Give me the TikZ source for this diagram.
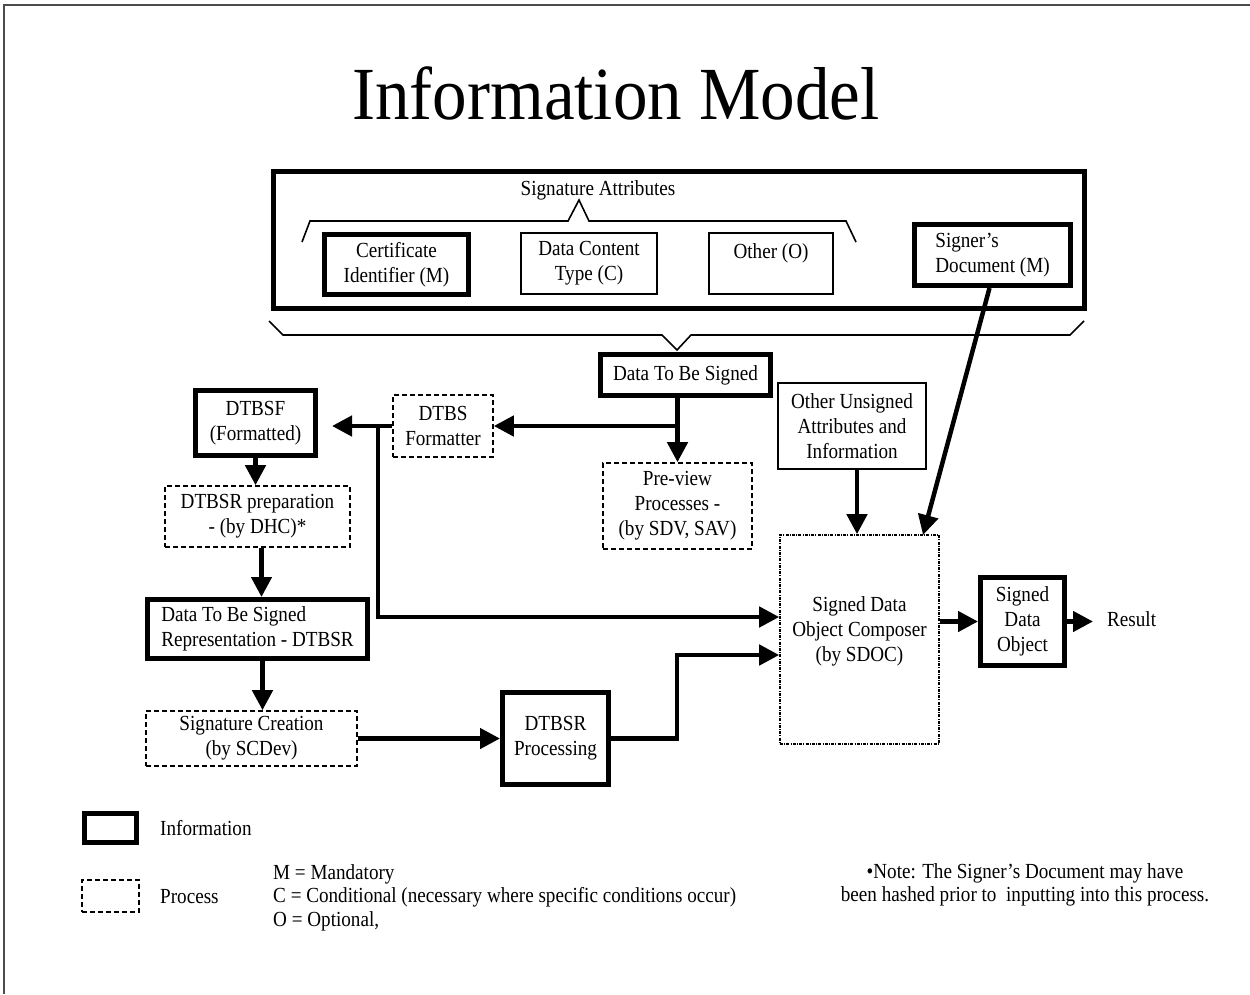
\documentclass[tikz,border=0pt]{standalone}
\usepackage{fontspec}
\setmainfont{Liberation Serif}[FakeStretch=0.89]
\usetikzlibrary{arrows.meta,calc}
\begin{document}
\begin{tikzpicture}[x=1pt,y=-1pt,
  txt/.style={font=\fontsize{21.5}{25}\selectfont, align=center, inner sep=0pt},
  info/.style={txt, draw, line width=5pt},
  plain/.style={txt, draw, line width=1.3pt},
  proc/.style={txt, draw, line width=1.6pt, dash pattern=on 5pt off 3pt},
  comp/.style={txt, draw, line width=1.6pt, dash pattern=on 3pt off 1.2pt on 1pt off 1.2pt},
  conn/.style={line width=4.5pt, -{Triangle[length=20pt,width=20pt]}},
  brace/.style={line width=1.6pt},
  frame/.style={line width=1.5pt, black!70}]
\useasboundingbox (0,0) rectangle (1250,994);
\draw[frame] (4,994) -- (4,5) -- (1250,5);

\node[inner sep=0pt] (title) at (616,93) {\scalebox{1.035}[1]{\fontsize{75}{80}\selectfont Information Model}};

% signature attributes group
\node[info, minimum width=811pt, minimum height=137pt] (outer) at (679,240) {};
\node[txt] (sigattr) at (598,190) {Signature Attributes};
\node[info, minimum width=144pt, minimum height=60pt] (cert) at (396.5,264.5) {Certificate\\Identifier (M)};
\node[plain, minimum width=136pt, minimum height=61pt] (dct) at (589,263.5) {Data Content\\Type (C)};
\node[plain, minimum width=124pt, minimum height=61pt] (oth) at (771,263.5) {Other (O)\\~};
\node[info, minimum width=156pt, minimum height=61pt, align=left] (signer) at (992.5,255) {Signer’s\\Document (M)};
\draw[brace] (302,242) -- (310,221) -- (568,221) -- (579,200) -- (589,221) -- (846,221) -- (856,242);
\draw[brace] (269,321) -- (283,335) -- (662,335) -- (677,350) -- (691,335) -- (1070,335) -- (1084,321);

% flow nodes
\node[info, minimum width=170pt, minimum height=41pt] (dtbs) at (685.5,375) {Data To Be Signed};
\node[proc, minimum width=100pt, minimum height=62pt] (fmt) at (443,426) {DTBS\\Formatter};
\node[info, minimum width=120pt, minimum height=65pt] (dtbsf) at (255.5,423) {DTBSF\\(Formatted)};
\node[proc, minimum width=149pt, minimum height=86pt] (prev) at (677.5,506) {Pre-view\\Processes -\\(by SDV, SAV)};
\node[plain, minimum width=148pt, minimum height=86pt] (ouai) at (852,426) {Other Unsigned\\Attributes and\\Information};
\node[proc, minimum width=185pt, minimum height=61pt] (prep) at (257.5,516.5) {DTBSR preparation\\- (by DHC)*};
\node[info, minimum width=220pt, minimum height=59pt, align=left] (dtbsr) at (257.5,629) {Data To Be Signed\\Representation - DTBSR};
\node[proc, minimum width=211pt, minimum height=55pt] (sigc) at (251.5,738.5) {Signature Creation\\(by SCDev)};
\node[info, minimum width=106pt, minimum height=92pt] (dproc) at (555.5,738.5) {DTBSR\\Processing};
\node[comp, minimum width=159pt, minimum height=209pt] (sdoc) at (859.5,639.5) {};
\node[txt] (sdoclbl) at (859.5,631) {Signed Data\\Object Composer\\(by SDOC)};
\node[info, minimum width=84pt, minimum height=88pt] (sdo) at (1022.5,621.5) {Signed\\Data\\Object};
\node[txt, anchor=west] (res) at (1107,619) {Result};

% connectors
\coordinate (j0) at (prev.north |- fmt.east);
\draw[conn] (dtbs.south -| prev.north) -- (prev.north);
\draw[conn] (j0) -- (fmt.east);
\draw[conn, shorten >=14pt] (fmt.west) -- (fmt.west -| dtbsf.east);
\coordinate (j1) at (378,426);
\coordinate (j2) at (378,617);
\draw[conn] (j1) -- (j2) -- (j2 -| sdoc.west);
\draw[conn] (dtbsf.south) -- (dtbsf.south |- prep.north);
\draw[conn] ([xshift=4pt]prep.south) -- ([xshift=4pt]prep.south |- dtbsr.north);
\draw[conn] ([xshift=5pt]dtbsr.south) -- ([xshift=5pt]dtbsr.south |- sigc.north);
\draw[conn] (sigc.east) -- (sigc.east -| dproc.west);
\coordinate (j3) at (677,738.5);
\coordinate (j4) at (677,655);
\draw[conn] (dproc.east) -- (j3) -- (j4) -- (j4 -| sdoc.west);
\draw[conn] ([xshift=5pt]ouai.south) -- ([xshift=5pt]ouai.south |- sdoc.north);
\coordinate (sdin) at (923,535);
\draw[conn] ([xshift=-3pt]signer.south) -- (sdin);
\draw[conn] (sdo.west -| sdoc.east) -- (sdo.west);
\draw[conn] (sdo.east) -- ([xshift=-14pt]res.west |- sdo.east);

% legend
\node[info, minimum width=52pt, minimum height=29pt] (leginfo) at (110.5,828) {};
\node[txt, anchor=west] (leginfot) at (160,828) {Information};
\node[proc, minimum width=57pt, minimum height=32pt] (legproc) at (110.5,896) {};
\node[txt, anchor=west] (legproct) at (160,897) {Process};
\node[txt, anchor=west, align=left, font=\fontsize{21.5}{23.5}\selectfont] (key) at (273,897.5) {M = Mandatory\\C = Conditional (necessary where specific conditions occur)\\O = Optional,};
\node[txt, font=\fontsize{21.5}{23}\selectfont] (note) at (1025,884.5) {•Note: The Signer’s Document may have\\been hashed prior to\ \ inputting into this process.};
\end{tikzpicture}
\end{document}
